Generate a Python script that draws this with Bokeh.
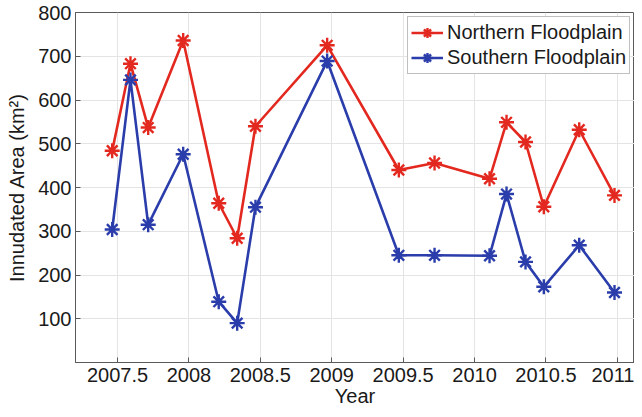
from bokeh.plotting import figure
from bokeh.models import ColumnDataSource, FixedTicker, Range1d, Legend, LegendItem
from bokeh.embed import file_html
from bokeh.resources import INLINE

# ---- data ----
years = [2007.463, 2007.591, 2007.715, 2007.960, 2008.209, 2008.338, 2008.466,
         2008.968, 2009.470, 2009.720, 2010.105, 2010.224, 2010.357, 2010.485,
         2010.733, 2010.980]
northern = [484, 683, 537, 736, 364, 284, 540, 725, 440, 456, 420, 549, 504,
            356, 532, 382]
southern = [304, 646, 315, 476, 139, 90, 355, 689, 245, 245, 244, 385, 230,
            173, 268, 160]
x_ticks = [2007.5, 2008.0, 2008.5, 2009.0, 2009.5, 2010.0, 2010.5, 2011.0]
x_tick_labels = ["2007.5", "2008", "2008.5", "2009", "2009.5", "2010",
                 "2010.5", "2011"]
y_ticks = [100, 200, 300, 400, 500, 600, 700, 800]

RED = "#e3291f"
BLUE = "#2a3dab"
FONT = "Liberation Sans"
TXT = "#1a1a1a"
AX = "#5a5a5a"

src = ColumnDataSource(dict(x=years, n=northern, s=southern))

p = figure(width=634, height=409, output_backend="svg", toolbar_location=None,
           x_range=Range1d(2007.206, 2011.12), y_range=Range1d(0, 800),
           min_border_left=75, min_border_right=0, min_border_top=12,
           min_border_bottom=46)

p.background_fill_color = "white"
p.border_fill_color = "white"
p.outline_line_color = AX
p.outline_line_width = 1

ln = p.line("x", "n", source=src, line_color=RED, line_width=2.6)
mn = p.scatter("x", "n", source=src, marker="asterisk", size=15,
               line_color=RED, line_width=2.4)
ls = p.line("x", "s", source=src, line_color=BLUE, line_width=2.6)
ms = p.scatter("x", "s", source=src, marker="asterisk", size=15,
               line_color=BLUE, line_width=2.4)

xa = p.xaxis[0]
ya = p.yaxis[0]
xa.ticker = FixedTicker(ticks=x_ticks)
xa.major_label_overrides = {t: l for t, l in zip(x_ticks, x_tick_labels)}
ya.ticker = FixedTicker(ticks=y_ticks)
xa.axis_label = "Year"
ya.axis_label = "Innudated Area (km²)"
for ax in (xa, ya):
    ax.axis_line_color = AX
    ax.major_tick_line_color = AX
    ax.major_tick_in = 5
    ax.major_tick_out = 0
    ax.minor_tick_line_color = None
    ax.major_label_text_font = FONT
    ax.major_label_text_font_size = "20px"
    ax.major_label_text_color = TXT
    ax.axis_label_text_font = FONT
    ax.axis_label_text_font_size = "20px"
    ax.axis_label_text_font_style = "normal"
    ax.axis_label_text_color = TXT
xa.major_label_standoff = 5
xa.axis_label_standoff = 0
ya.major_label_standoff = 4
ya.axis_label_standoff = 7

p.xgrid.ticker = FixedTicker(ticks=x_ticks)
p.ygrid.ticker = FixedTicker(ticks=y_ticks)
p.grid.grid_line_color = "#e4e4e4"
p.grid.grid_line_width = 1

legend = Legend(items=[LegendItem(label="Northern Floodplain", renderers=[ln, mn]),
                       LegendItem(label="Southern Floodplain", renderers=[ls, ms])],
                location="top_right")
legend.label_text_font = FONT
legend.label_text_font_size = "20px"
legend.label_text_color = TXT
legend.glyph_width = 32
legend.glyph_height = 25
legend.label_height = 25
legend.label_standoff = 4
legend.spacing = 0
legend.padding = 3
legend.margin = 4
legend.border_line_color = "#808080"
legend.border_line_width = 1
legend.background_fill_alpha = 1
p.add_layout(legend)

open("out.html", "w").write(file_html(p, INLINE))
